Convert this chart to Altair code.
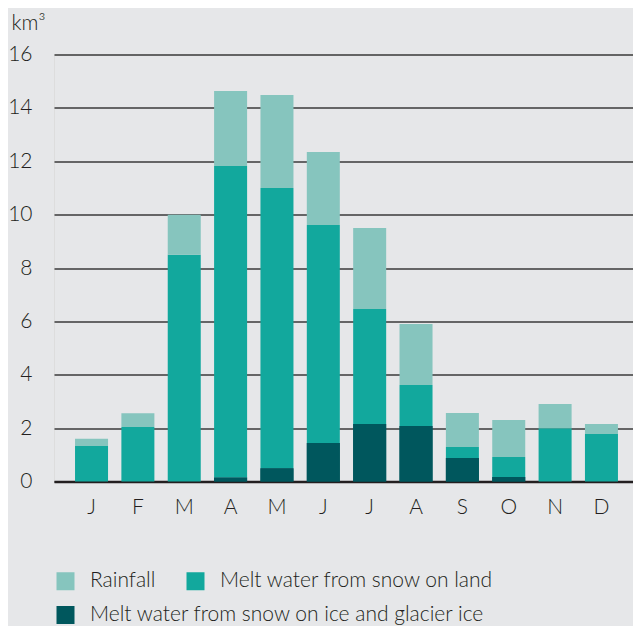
import json
import altair as alt
import pandas as pd

months = ["J", "F", "M", "A", "M", "J", "J", "A", "S", "O", "N", "D"]
glacier = [0, 0, 0, 0.15, 0.5, 1.44, 2.15, 2.08, 0.88, 0.17, 0, 0]
land = [1.33, 2.04, 8.5, 11.67, 10.5, 8.17, 4.31, 1.54, 0.41, 0.75, 2.0, 1.78]
rain = [0.27, 0.52, 1.5, 2.81, 3.48, 2.74, 3.04, 2.28, 1.28, 1.38, 0.9, 0.37]
series = ["Rainfall", "Melt water from snow on land",
          "Melt water from snow on ice and glacier ice"]
colors = ["#86C5BE", "#12A89D", "#00575D"]
y_ticks = [0, 2, 4, 6, 8, 10, 12, 14, 16]

rows = []
for i in range(len(months)):
    for ordv, (name, vals) in enumerate([(series[2], glacier), (series[1], land), (series[0], rain)]):
        rows.append({"idx": i, "series": name, "value": vals[i], "ord": ordv})
df = pd.DataFrame(rows)

label_expr = json.dumps(months) + "[datum.value]"
text_color = "#231F20"
fw = 300

x_enc = alt.X("idx:O",
              scale=alt.Scale(paddingInner=0.288, paddingOuter=0.389, align=0.583),
              axis=alt.Axis(title=None, labelExpr=label_expr, labelAngle=0, ticks=False,
                            domain=True, domainColor=text_color, domainWidth=2.4,
                            labelFontSize=21, labelFontWeight=fw, labelPadding=15, grid=False,
                            labelColor=text_color))
y_enc = alt.Y("value:Q", stack="zero",
              scale=alt.Scale(domain=[0, 16], nice=False),
              axis=alt.Axis(values=y_ticks, title="km³", titleAngle=0, titleAlign="left",
                            titleBaseline="alphabetic", titleX=-43, titleY=-25,
                            titleFontSize=21, titleFontWeight=fw, titleColor=text_color,
                            domain=False, ticks=False, labelPadding=22,
                            gridColor="#3A3A3A", gridWidth=1.4, gridOpacity=1,
                            labelFontSize=21, labelFontWeight=fw, labelColor=text_color))

legend_common = dict(title=None, orient="none", labelFontSize=21, labelFontWeight=fw,
                     labelColor=text_color, labelLimit=0, symbolType="square",
                     symbolSize=324, symbolStrokeWidth=0, symbolOpacity=1,
                     labelOffset=14, columnPadding=29, padding=0, direction="horizontal")

stacked = alt.Chart(df).mark_bar().encode(
    x=x_enc,
    y=y_enc,
    color=alt.Color("series:N",
                    scale=alt.Scale(domain=series, range=colors),
                    legend=alt.Legend(legendX=1, legendY=516, values=series[:2],
                                      **legend_common)),
    order=alt.Order("ord:Q", sort="ascending"),
)

glacier_layer = alt.Chart(df).transform_filter(
    alt.datum.series == series[2]
).mark_bar().encode(
    x=x_enc,
    y=y_enc,
    fill=alt.Fill("series:N",
                  scale=alt.Scale(domain=[series[2]], range=[colors[2]]),
                  legend=alt.Legend(legendX=1, legendY=550, **legend_common)),
)

chart = alt.layer(stacked, glacier_layer).properties(
    width=579, height=427,
    autosize=alt.AutoSizeParams(type="none"),
    padding={"left": 46, "top": 46.5, "right": 0, "bottom": 150},
    background="#E6E7E9",
).configure_view(stroke=None).configure(font="Lato")

chart.save("out.html", embed_options={"renderer": "svg", "actions": False})
